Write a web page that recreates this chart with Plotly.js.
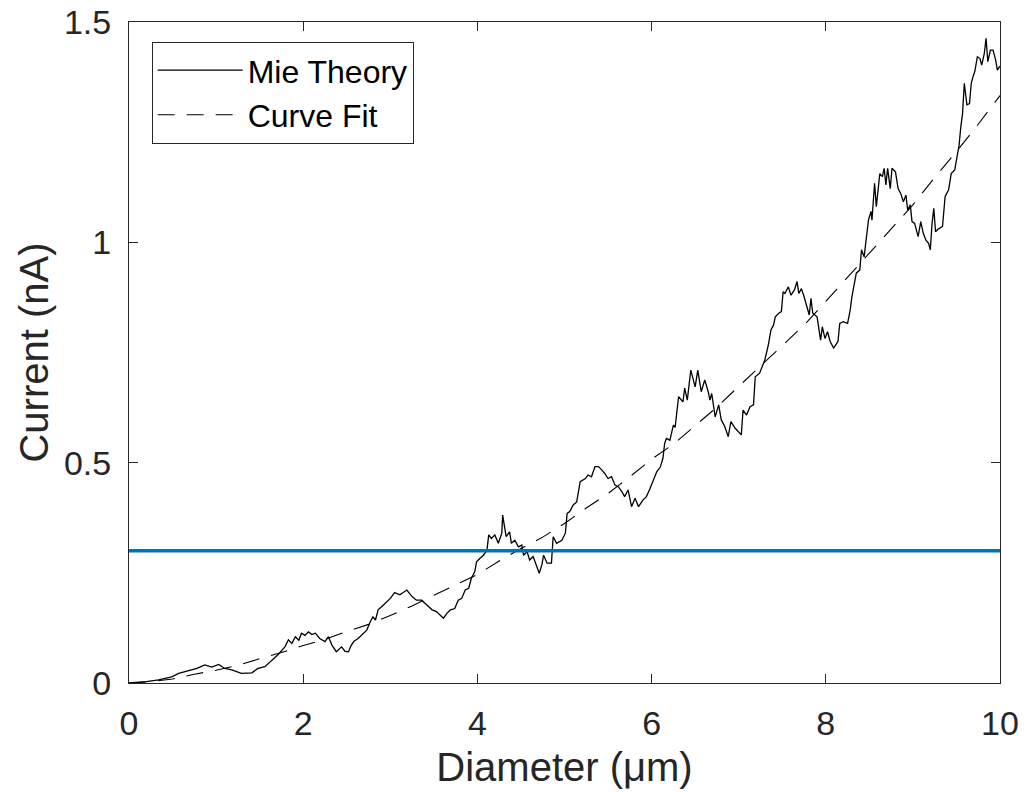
<!DOCTYPE html>
<html>
<head>
<meta charset="utf-8">
<script src="https://cdn.plot.ly/plotly-3.0.1.min.js"></script>
<style>html,body{margin:0;padding:0;background:#fff;}#chart{width:1032px;height:803px;}</style>
</head>
<body>
<div id="chart"></div>
<script>
// Mie Theory
const mieX = [0,0.1,0.2,0.34,0.49,0.57,0.72,0.78,0.87,0.95,1.03,1.10,1.18,1.29,1.41,1.48,1.56,1.64,1.71,1.79,1.83,1.87,1.91,1.95,1.98,2.02,2.06,2.10,2.14,2.19,2.25,2.29,2.33,2.38,2.44,2.48,2.52,2.55,2.58,2.63,2.69,2.73,2.77,2.80,2.83,2.86,2.90,2.94,3.00,3.05,3.11,3.19,3.25,3.30,3.36,3.42,3.48,3.53,3.61,3.65,3.69,3.74,3.78,3.82,3.86,3.90,3.93,3.97,3.99,4.03,4.07,4.11,4.13,4.16,4.20,4.24,4.28,4.29,4.33,4.37,4.39,4.43,4.47,4.51,4.53,4.57,4.60,4.64,4.68,4.71,4.74,4.76,4.80,4.85,4.87,4.91,4.97,5.01,5.03,5.06,5.10,5.14,5.18,5.24,5.27,5.31,5.35,5.39,5.43,5.46,5.50,5.54,5.58,5.62,5.66,5.69,5.73,5.77,5.81,5.85,5.90,5.94,5.98,6.02,6.06,6.10,6.13,6.15,6.17,6.21,6.25,6.27,6.31,6.36,6.38,6.41,6.45,6.50,6.53,6.57,6.61,6.65,6.67,6.69,6.73,6.77,6.80,6.84,6.88,6.91,6.96,7.03,7.05,7.09,7.13,7.17,7.19,7.24,7.28,7.30,7.34,7.37,7.40,7.42,7.46,7.49,7.51,7.53,7.57,7.60,7.64,7.67,7.69,7.72,7.75,7.79,7.81,7.83,7.85,7.90,7.92,7.94,7.96,7.99,8.02,8.05,8.09,8.14,8.16,8.20,8.25,8.28,8.30,8.32,8.35,8.39,8.41,8.44,8.47,8.49,8.52,8.53,8.56,8.58,8.62,8.65,8.67,8.69,8.71,8.74,8.76,8.80,8.83,8.86,8.89,8.92,8.94,8.97,8.99,9.02,9.06,9.09,9.12,9.15,9.18,9.20,9.22,9.24,9.26,9.29,9.34,9.37,9.41,9.44,9.48,9.51,9.53,9.55,9.57,9.59,9.62,9.65,9.67,9.69,9.71,9.74,9.77,9.79,9.82,9.84,9.86,9.89,9.92,9.95,9.97,10.0];
const mieY = [0,0.001,0.003,0.007,0.014,0.022,0.031,0.033,0.041,0.036,0.042,0.033,0.030,0.022,0.023,0.033,0.037,0.052,0.064,0.082,0.098,0.090,0.105,0.097,0.113,0.108,0.116,0.110,0.113,0.101,0.094,0.105,0.086,0.071,0.082,0.072,0.071,0.085,0.094,0.101,0.113,0.120,0.139,0.150,0.143,0.166,0.173,0.181,0.192,0.205,0.200,0.211,0.196,0.188,0.188,0.177,0.166,0.162,0.147,0.158,0.166,0.169,0.188,0.192,0.211,0.215,0.237,0.253,0.275,0.283,0.290,0.302,0.336,0.328,0.336,0.317,0.340,0.381,0.332,0.343,0.317,0.324,0.309,0.313,0.290,0.298,0.279,0.287,0.264,0.249,0.268,0.290,0.272,0.272,0.332,0.317,0.324,0.340,0.385,0.389,0.404,0.411,0.457,0.464,0.472,0.468,0.491,0.491,0.483,0.476,0.464,0.468,0.449,0.445,0.434,0.423,0.438,0.400,0.419,0.400,0.415,0.423,0.44,0.46,0.48,0.49,0.510,0.544,0.555,0.551,0.585,0.580,0.650,0.638,0.669,0.642,0.710,0.672,0.710,0.661,0.688,0.661,0.642,0.657,0.604,0.631,0.597,0.582,0.559,0.593,0.578,0.563,0.619,0.608,0.627,0.631,0.695,0.703,0.725,0.733,0.767,0.801,0.812,0.831,0.839,0.843,0.888,0.884,0.899,0.880,0.892,0.911,0.884,0.895,0.877,0.846,0.835,0.873,0.839,0.831,0.805,0.778,0.808,0.782,0.797,0.775,0.760,0.775,0.816,0.820,0.816,0.846,0.877,0.896,0.930,0.937,0.983,0.967,1.028,1.051,1.070,1.050,1.134,1.081,1.156,1.149,1.168,1.130,1.168,1.122,1.168,1.160,1.122,1.111,1.092,1.107,1.073,1.085,1.047,1.043,1.013,1.047,1.020,1.005,0.998,0.983,1.043,1.077,1.024,1.030,1.036,1.104,1.119,1.156,1.164,1.194,1.22,1.262,1.292,1.361,1.312,1.315,1.361,1.376,1.387,1.421,1.417,1.402,1.429,1.463,1.410,1.436,1.436,1.414,1.391,1.40];

// Curve Fit
const fitX = [0,0.25,0.5,0.75,1.0,1.25,1.5,1.75,2.0,2.25,2.5,2.75,3.0,3.25,3.5,3.75,4.0,4.25,4.5,4.75,5.0,5.25,5.5,5.75,6.0,6.25,6.5,6.75,7.0,7.25,7.5,7.75,8.0,8.25,8.5,8.75,9.0,9.25,9.5,9.75,10.0];
const fitY = [0,0.003,0.009,0.020,0.029,0.040,0.055,0.069,0.085,0.099,0.117,0.133,0.153,0.175,0.199,0.223,0.246,0.277,0.305,0.331,0.362,0.397,0.430,0.468,0.508,0.542,0.585,0.626,0.673,0.719,0.766,0.812,0.866,0.921,0.974,1.030,1.085,1.147,1.206,1.268,1.333];

// Threshold line
const thrX = [0, 10];
const thrY = [0.3, 0.3];

const xTicks = [0,2,4,6,8,10];
const yTicks = [0,0.5,1,1.5];
const yTickText = ['0','0.5','1','1.5'];

const FONT = '"Liberation Sans", Arial, Helvetica, sans-serif';
const INK = '#262626';

const traces = [
  {x: mieX, y: mieY, type: 'scatter', mode: 'lines', name: 'Mie Theory',
   line: {color: '#000000', width: 1.3}},
  {x: fitX, y: fitY, type: 'scatter', mode: 'lines', name: 'Curve Fit',
   line: {color: '#000000', width: 1.1, dash: '17px,12px'}},
  {x: thrX, y: thrY, type: 'scatter', mode: 'lines', showlegend: false,
   line: {color: '#0072BD', width: 3.5}}
];

const layout = {
  width: 1032, height: 803,
  margin: {l: 129, r: 32, t: 22, b: 120},
  paper_bgcolor: '#ffffff', plot_bgcolor: '#ffffff',
  font: {family: FONT, color: INK, size: 34},
  showlegend: true,
  legend: {
    x: 0.026, y: 0.97, xanchor: 'left', yanchor: 'top',
    bgcolor: '#ffffff', bordercolor: INK, borderwidth: 1,
    font: {family: FONT, size: 32, color: '#000000'},
    itemwidth: 85, tracegroupgap: 0
  },
  xaxis: {
    range: [0, 10], tickvals: xTicks, ticktext: xTicks.map(String),
    ticks: 'inside', ticklen: 9, tickwidth: 1, tickcolor: INK,
    showline: true, linecolor: INK, linewidth: 1, mirror: 'ticks',
    showgrid: false, zeroline: false, automargin: true,
    ticklabelstandoff: 10,
    tickfont: {family: FONT, size: 34, color: INK},
    title: {text: 'Diameter (μm)', font: {family: FONT, size: 40, color: INK}, standoff: 12}
  },
  yaxis: {
    range: [0, 1.5], tickvals: yTicks, ticktext: yTickText,
    ticks: 'inside', ticklen: 9, tickwidth: 1, tickcolor: INK,
    showline: true, linecolor: INK, linewidth: 1, mirror: 'ticks',
    showgrid: false, zeroline: false,
    ticklabelstandoff: 10,
    tickfont: {family: FONT, size: 34, color: INK},
    title: {text: 'Current (nA)', font: {family: FONT, size: 40, color: INK}, standoff: 2}
  }
};

Plotly.newPlot('chart', traces, layout, {displayModeBar: false, staticPlot: true});
</script>
</body>
</html>
